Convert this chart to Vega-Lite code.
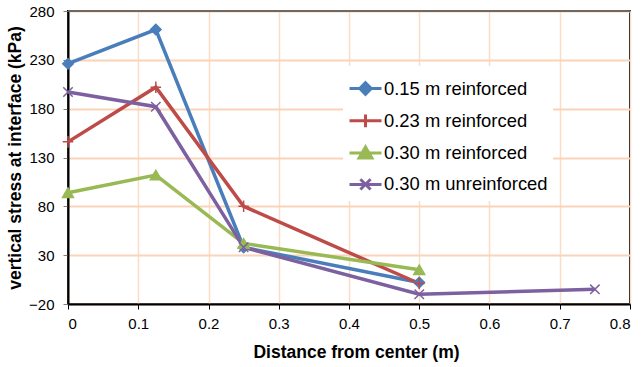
{
  "$schema": "https://vega.github.io/schema/vega-lite/v6.json",
  "width": 562,
  "height": 293,
  "autosize": {"type": "none"},
  "padding": {"left": 68, "top": 11, "right": 11, "bottom": 63},
  "background": "white",
  "config": {
    "font": "Liberation Sans",
    "view": {"stroke": "black", "strokeWidth": 2},
    "axis": {
      "labelFont": "Liberation Sans",
      "titleFont": "Liberation Sans",
      "labelFontSize": 15,
      "labelColor": "black",
      "titleFontSize": 17.5,
      "titleFontWeight": "bold",
      "titleColor": "black",
      "domainColor": "black",
      "domainWidth": 2,
      "tickColor": "black",
      "tickSize": 5,
      "gridColor": "#FCDCC4",
      "gridWidth": 1.5
    }
  },
  "data": {
    "values": [
      {"series": "0.15 m reinforced", "x": 0, "y": 226},
      {"series": "0.15 m reinforced", "x": 0.125, "y": 261},
      {"series": "0.15 m reinforced", "x": 0.25, "y": 38},
      {"series": "0.15 m reinforced", "x": 0.5, "y": 2},
      {"series": "0.23 m reinforced", "x": 0, "y": 146},
      {"series": "0.23 m reinforced", "x": 0.125, "y": 202},
      {"series": "0.23 m reinforced", "x": 0.25, "y": 80},
      {"series": "0.23 m reinforced", "x": 0.5, "y": 1},
      {"series": "0.30 m reinforced", "x": 0, "y": 94},
      {"series": "0.30 m reinforced", "x": 0.125, "y": 112},
      {"series": "0.30 m reinforced", "x": 0.25, "y": 42},
      {"series": "0.30 m reinforced", "x": 0.5, "y": 15},
      {"series": "0.30 m unreinforced", "x": 0, "y": 197},
      {"series": "0.30 m unreinforced", "x": 0.125, "y": 182},
      {"series": "0.30 m unreinforced", "x": 0.25, "y": 38},
      {"series": "0.30 m unreinforced", "x": 0.5, "y": -10},
      {"series": "0.30 m unreinforced", "x": 0.75, "y": -5}
    ]
  },
  "layer": [
    {
      "mark": {"type": "line", "strokeWidth": 3.5},
      "encoding": {
        "x": {
          "field": "x", "type": "quantitative",
          "scale": {"domain": [0, 0.8], "nice": false, "zero": false},
          "axis": {
            "values": [0, 0.1, 0.2, 0.3, 0.4, 0.5, 0.6, 0.7, 0.8],
            "format": "~g",
            "grid": true,
            "labelPadding": 7,
            "title": "Distance from center (m)",
            "titlePadding": 12,
            "titleX": 288
          }
        },
        "y": {
          "field": "y", "type": "quantitative",
          "scale": {"domain": [-20, 280], "nice": false, "zero": false},
          "axis": {
            "values": [-20, 30, 80, 130, 180, 230, 280],
            "grid": true,
            "gridColor": "#FAD4B8",
            "gridWidth": 2,
            "gridOpacity": 1,
            "labelPadding": 9,
            "tickColor": "#808080",
            "title": "vertical stress at interface (kPa)",
            "titlePadding": 4
          }
        },
        "stroke": {
          "field": "series", "type": "nominal",
          "scale": {
            "domain": ["0.15 m reinforced", "0.23 m reinforced", "0.30 m reinforced", "0.30 m unreinforced"],
            "range": ["#4A7EBB", "#BE4B48", "#98B954", "#7D60A0"]
          },
          "legend": {
            "title": null,
            "orient": "none",
            "legendX": 275,
            "legendY": 55,
            "padding": 5,
            "fillColor": "white",
            "rowPadding": 2.3,
            "labelOffset": 1,
            "labelFontSize": 18.4,
            "labelLimit": 300,
            "labelFont": "Liberation Sans",
            "labelColor": "black",
            "symbolSize": 1024,
            "symbolStrokeWidth": 3,
            "encode": {
              "symbols": {
                "update": {
                  "size": {"value": 1024},
                  "strokeWidth": {"value": 3},
                  "fill": {"scale": "stroke", "field": "value"},
                  "shape": {"signal": "datum.value == '0.15 m reinforced' ? 'M-1,0H1M0,-0.36L0.36,0L0,0.36L-0.36,0Z' : datum.value == '0.23 m reinforced' ? 'M-1,0H1M0,-0.4V0.4' : datum.value == '0.30 m reinforced' ? 'M-1,0H1M0,-0.38L0.4,0.3L-0.4,0.3Z' : 'M-1,0H1M-0.32,-0.32L0.32,0.32M-0.32,0.32L0.32,-0.32'"}
                }
              }
            }
          }
        }
      }
    },
    {
      "mark": {"type": "rule", "color": "#6F6760", "strokeWidth": 2},
      "encoding": {
        "y": {"datum": 280, "type": "quantitative"}
      }
    },
    {
      "transform": [{"filter": {"field": "series", "equal": "0.15 m reinforced"}}],
      "mark": {"type": "point", "filled": true, "size": 110, "strokeWidth": 1.5, "opacity": 1, "shape": "diamond"},
      "encoding": {
        "x": {"field": "x", "type": "quantitative"},
        "y": {"field": "y", "type": "quantitative"},
        "stroke": {"field": "series", "type": "nominal", "legend": null},
        "fill": {"field": "series", "type": "nominal", "legend": null, "scale": {"domain": ["0.15 m reinforced", "0.23 m reinforced", "0.30 m reinforced", "0.30 m unreinforced"], "range": ["#4A7EBB", "#BE4B48", "#98B954", "#7D60A0"]}}
      }
    },
    {
      "transform": [{"filter": {"field": "series", "equal": "0.23 m reinforced"}}],
      "mark": {"type": "point", "filled": true, "size": 110, "strokeWidth": 1.5, "opacity": 1, "shape": "M-1,0H1M0,-1.1V1.1"},
      "encoding": {
        "x": {"field": "x", "type": "quantitative"},
        "y": {"field": "y", "type": "quantitative"},
        "stroke": {"field": "series", "type": "nominal", "legend": null},
        "fill": {"field": "series", "type": "nominal", "legend": null}
      }
    },
    {
      "transform": [{"filter": {"field": "series", "equal": "0.30 m reinforced"}}],
      "mark": {"type": "point", "filled": true, "size": 120, "strokeWidth": 1.5, "opacity": 1, "shape": "triangle-up"},
      "encoding": {
        "x": {"field": "x", "type": "quantitative"},
        "y": {"field": "y", "type": "quantitative"},
        "stroke": {"field": "series", "type": "nominal", "legend": null},
        "fill": {"field": "series", "type": "nominal", "legend": null}
      }
    },
    {
      "transform": [{"filter": {"field": "series", "equal": "0.30 m unreinforced"}}],
      "mark": {"type": "point", "filled": true, "size": 110, "strokeWidth": 1.5, "opacity": 1, "shape": "M-0.9,-0.9L0.9,0.9M-0.9,0.9L0.9,-0.9"},
      "encoding": {
        "x": {"field": "x", "type": "quantitative"},
        "y": {"field": "y", "type": "quantitative"},
        "stroke": {"field": "series", "type": "nominal", "legend": null},
        "fill": {"field": "series", "type": "nominal", "legend": null}
      }
    }
  ]
}
